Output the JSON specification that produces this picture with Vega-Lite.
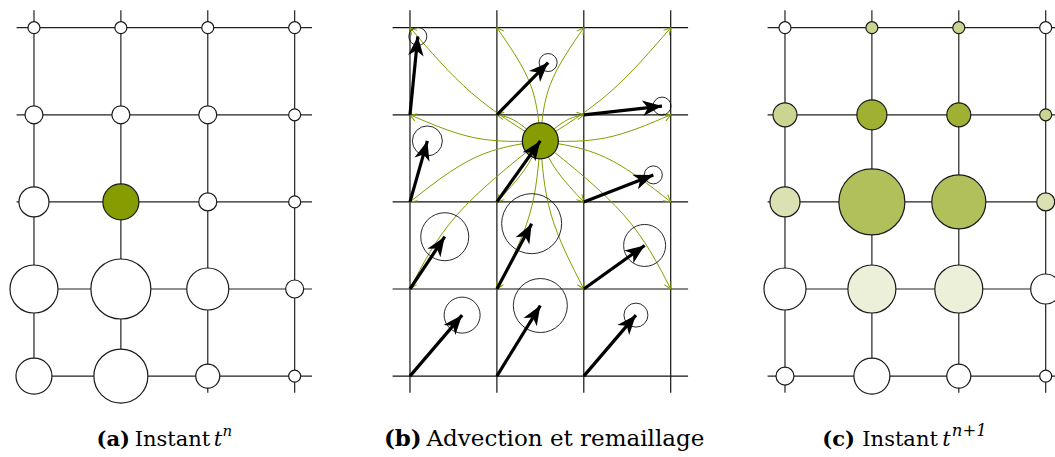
{
  "$schema": "https://vega.github.io/schema/vega-lite/v6.json",
  "padding": 0,
  "spacing": 0,
  "bounds": "flush",
  "background": "white",
  "config": {"view": {"stroke": null}},
  "datasets": {
    "grid": [
      {"x": -0.2, "x2": 3.2, "y": 0, "y2": 0},
      {"x": -0.2, "x2": 3.2, "y": 1, "y2": 1},
      {"x": -0.2, "x2": 3.2, "y": 2, "y2": 2},
      {"x": -0.2, "x2": 3.2, "y": 3, "y2": 3},
      {"x": -0.2, "x2": 3.2, "y": 4, "y2": 4},
      {"x": 0, "x2": 0, "y": -0.2, "y2": 4.19},
      {"x": 1, "x2": 1, "y": -0.2, "y2": 4.19},
      {"x": 2, "x2": 2, "y": -0.2, "y2": 4.19},
      {"x": 3, "x2": 3, "y": -0.2, "y2": 4.19}
    ],
    "circA": [
      {"x": 0, "y": 0, "m": 2, "f": 0}, {"x": 1, "y": 0, "m": 2, "f": 0}, {"x": 2, "y": 0, "m": 2, "f": 0}, {"x": 3, "y": 0, "m": 2, "f": 0},
      {"x": 0, "y": 1, "m": 3, "f": 0}, {"x": 1, "y": 1, "m": 3, "f": 0}, {"x": 2, "y": 1, "m": 3, "f": 0}, {"x": 3, "y": 1, "m": 2, "f": 0},
      {"x": 0, "y": 2, "m": 5, "f": 0}, {"x": 1, "y": 2, "m": 6, "f": 1}, {"x": 2, "y": 2, "m": 3, "f": 0}, {"x": 3, "y": 2, "m": 2, "f": 0},
      {"x": 0, "y": 3, "m": 8, "f": 0}, {"x": 1, "y": 3, "m": 10, "f": 0}, {"x": 2, "y": 3, "m": 7, "f": 0}, {"x": 3, "y": 3, "m": 3, "f": 0},
      {"x": 0, "y": 4, "m": 6, "f": 0}, {"x": 1, "y": 4, "m": 9, "f": 0}, {"x": 2, "y": 4, "m": 4, "f": 0}, {"x": 3, "y": 4, "m": 2, "f": 0}
    ],
    "circC": [
      {"x": 0, "y": 0, "m": 2, "f": 0}, {"x": 1, "y": 0, "m": 2, "f": 0.43}, {"x": 2, "y": 0, "m": 2, "f": 0.43}, {"x": 3, "y": 0, "m": 2, "f": 0},
      {"x": 0, "y": 1, "m": 4, "f": 0.43}, {"x": 1, "y": 1, "m": 5, "f": 0.8}, {"x": 2, "y": 1, "m": 4, "f": 0.8}, {"x": 3, "y": 1, "m": 2, "f": 0.43},
      {"x": 0, "y": 2, "m": 5, "f": 0.3}, {"x": 1, "y": 2, "m": 11, "f": 0.64}, {"x": 2, "y": 2, "m": 9, "f": 0.64}, {"x": 3, "y": 2, "m": 3, "f": 0.3},
      {"x": 0, "y": 3, "m": 7, "f": 0}, {"x": 1, "y": 3, "m": 8, "f": 0.15}, {"x": 2, "y": 3, "m": 8, "f": 0.15}, {"x": 3, "y": 3, "m": 5, "f": 0},
      {"x": 0, "y": 4, "m": 3, "f": 0}, {"x": 1, "y": 4, "m": 6, "f": 0}, {"x": 2, "y": 4, "m": 4, "f": 0}, {"x": 3, "y": 4, "m": 2, "f": 0}
    ],
    "arrows": [
      {"x": 0.09, "y": 0.10, "x2": 0, "y2": 1, "m": 3, "g": 0, "a": -84.3},
      {"x": 1.59, "y": 0.40, "x2": 1, "y2": 1, "m": 3, "g": 0, "a": -45.5},
      {"x": 2.90, "y": 0.90, "x2": 2, "y2": 1, "m": 3, "g": 0, "a": -6.3},
      {"x": 0.20, "y": 1.30, "x2": 0, "y2": 2, "m": 5, "g": 0, "a": -74.1},
      {"x": 1.50, "y": 1.30, "x2": 1, "y2": 2, "m": 6, "g": 1, "a": -54.5},
      {"x": 2.80, "y": 1.69, "x2": 2, "y2": 2, "m": 3, "g": 0, "a": -21.2},
      {"x": 0.40, "y": 2.40, "x2": 0, "y2": 3, "m": 8, "g": 0, "a": -56.4},
      {"x": 1.40, "y": 2.25, "x2": 1, "y2": 3, "m": 10, "g": 0, "a": -62.0},
      {"x": 2.70, "y": 2.50, "x2": 2, "y2": 3, "m": 7, "g": 0, "a": -35.6},
      {"x": 0.60, "y": 3.30, "x2": 0, "y2": 4, "m": 6, "g": 0, "a": -49.5},
      {"x": 1.50, "y": 3.19, "x2": 1, "y2": 4, "m": 9, "g": 0, "a": -58.4},
      {"x": 2.60, "y": 3.30, "x2": 2, "y2": 4, "m": 4, "g": 0, "a": -49.5}
    ],
    "curves": [
      {"id": 1, "k": 0, "x": 1.5, "y": 1.3}, {"id": 1, "k": 1, "x": 0.71, "y": 0.75}, {"id": 1, "k": 2, "x": 0, "y": 0, "a": -130.7},
      {"id": 2, "k": 0, "x": 1.5, "y": 1.3}, {"id": 2, "k": 1, "x": 1.385, "y": 0.65}, {"id": 2, "k": 2, "x": 1, "y": 0, "a": -124.8},
      {"id": 3, "k": 0, "x": 1.5, "y": 1.3}, {"id": 3, "k": 1, "x": 1.615, "y": 0.65}, {"id": 3, "k": 2, "x": 2, "y": 0, "a": -55.2},
      {"id": 4, "k": 0, "x": 1.5, "y": 1.3}, {"id": 4, "k": 1, "x": 2.29, "y": 0.75}, {"id": 4, "k": 2, "x": 3, "y": 0, "a": -49.3},
      {"id": 5, "k": 0, "x": 1.5, "y": 1.3}, {"id": 5, "k": 1, "x": 0.75, "y": 1.265}, {"id": 5, "k": 2, "x": 0, "y": 1, "a": -157},
      {"id": 6, "k": 0, "x": 1.5, "y": 1.3}, {"id": 6, "k": 1, "x": 1.22, "y": 1.075}, {"id": 6, "k": 2, "x": 1, "y": 1, "a": -169.7},
      {"id": 7, "k": 0, "x": 1.5, "y": 1.3}, {"id": 7, "k": 1, "x": 1.78, "y": 1.075}, {"id": 7, "k": 2, "x": 2, "y": 1, "a": -10.3},
      {"id": 8, "k": 0, "x": 1.5, "y": 1.3}, {"id": 8, "k": 1, "x": 2.25, "y": 1.265}, {"id": 8, "k": 2, "x": 3, "y": 1, "a": -23},
      {"id": 9, "k": 0, "x": 1.5, "y": 1.3}, {"id": 9, "k": 1, "x": 0.75, "y": 1.49}, {"id": 9, "k": 2, "x": 0, "y": 2, "a": 141.7},
      {"id": 10, "k": 0, "x": 1.5, "y": 1.3}, {"id": 10, "k": 1, "x": 1.305, "y": 1.65}, {"id": 10, "k": 2, "x": 1, "y": 2, "a": 133.9},
      {"id": 11, "k": 0, "x": 1.5, "y": 1.3}, {"id": 11, "k": 1, "x": 1.695, "y": 1.65}, {"id": 11, "k": 2, "x": 2, "y": 2, "a": 46.1},
      {"id": 12, "k": 0, "x": 1.5, "y": 1.3}, {"id": 12, "k": 1, "x": 2.25, "y": 1.49}, {"id": 12, "k": 2, "x": 3, "y": 2, "a": 38.3},
      {"id": 13, "k": 0, "x": 1.5, "y": 1.3}, {"id": 13, "k": 1, "x": 0.54, "y": 2.15}, {"id": 13, "k": 2, "x": 0, "y": 3, "a": 117.1},
      {"id": 14, "k": 0, "x": 1.5, "y": 1.3}, {"id": 14, "k": 1, "x": 1.375, "y": 2.15}, {"id": 14, "k": 2, "x": 1, "y": 3, "a": 117.2},
      {"id": 15, "k": 0, "x": 1.5, "y": 1.3}, {"id": 15, "k": 1, "x": 1.625, "y": 2.15}, {"id": 15, "k": 2, "x": 2, "y": 3, "a": 62.8},
      {"id": 16, "k": 0, "x": 1.5, "y": 1.3}, {"id": 16, "k": 1, "x": 2.46, "y": 2.15}, {"id": 16, "k": 2, "x": 3, "y": 3, "a": 62.9}
    ]
  },
  "hconcat": [
    {
      "width": 376,
      "height": 457,
      "encoding": {
        "x": {"field": "x", "type": "quantitative", "scale": {"domain": [-0.391, 3.936], "nice": false, "zero": false}, "axis": null},
        "y": {"field": "y", "type": "quantitative", "scale": {"domain": [-0.318, 4.929], "nice": false, "zero": false, "reverse": true}, "axis": null}
      },
      "layer": [
        {"data": {"name": "grid"}, "mark": {"type": "rule", "color": "#222222", "strokeWidth": 1.2}, "encoding": {"x2": {"field": "x2"}, "y2": {"field": "y2"}}},
        {"data": {"name": "circA"}, "mark": {"type": "point", "shape": "circle", "filled": true, "opacity": 1, "stroke": "#1a1a1a", "strokeWidth": 1.2},
         "encoding": {
           "size": {"field": "m", "type": "quantitative", "scale": {"type": "pow", "exponent": 2, "domain": [0, 10], "range": [0, 3600]}, "legend": null},
           "fill": {"field": "f", "type": "quantitative", "scale": {"domain": [0, 1], "range": ["#ffffff", "#879c00"], "interpolate": "rgb"}, "legend": null}
         }},
        {"data": {"values": [{"x": 0.72, "y": 4.802, "t": "(a)"}]}, "mark": {"type": "text", "align": "left", "baseline": "alphabetic", "font": "DejaVu Serif", "fontSize": 21, "fontWeight": "bold", "color": "#000"}, "encoding": {"text": {"field": "t"}}},
        {"data": {"values": [{"x": 1.16, "y": 4.802, "t": "Instant"}]}, "mark": {"type": "text", "align": "left", "baseline": "alphabetic", "font": "DejaVu Serif", "fontSize": 21, "color": "#000"}, "encoding": {"text": {"field": "t"}}},
        {"data": {"values": [{"x": 2.07, "y": 4.802, "t": "t"}]}, "mark": {"type": "text", "align": "left", "baseline": "alphabetic", "font": "DejaVu Serif", "fontSize": 21, "fontStyle": "italic", "color": "#000"}, "encoding": {"text": {"field": "t"}}},
        {"data": {"values": [{"x": 2.17, "y": 4.69, "t": "n"}]}, "mark": {"type": "text", "align": "left", "baseline": "alphabetic", "font": "DejaVu Serif", "fontSize": 15, "fontStyle": "italic", "color": "#000"}, "encoding": {"text": {"field": "t"}}}
      ]
    },
    {
      "width": 375,
      "height": 457,
      "encoding": {
        "x": {"field": "x", "type": "quantitative", "scale": {"domain": [-0.391, 3.924], "nice": false, "zero": false}, "axis": null},
        "y": {"field": "y", "type": "quantitative", "scale": {"domain": [-0.318, 4.929], "nice": false, "zero": false, "reverse": true}, "axis": null}
      },
      "layer": [
        {"data": {"name": "grid"}, "mark": {"type": "rule", "color": "#111111", "strokeWidth": 1.2}, "encoding": {"x2": {"field": "x2"}, "y2": {"field": "y2"}}},
        {"data": {"name": "curves"}, "mark": {"type": "line", "interpolate": "natural", "color": "#879c00", "strokeWidth": 1},
         "encoding": {"detail": {"field": "id", "type": "nominal"}, "order": {"field": "k", "type": "quantitative"}}},
        {"data": {"name": "curves"}, "transform": [{"filter": "datum.k == 2"}],
         "mark": {"type": "point", "shape": "M-1.8,-1L0,0L-1.8,1", "filled": false, "opacity": 1, "stroke": "#879c00", "strokeWidth": 1, "size": 56},
         "encoding": {"angle": {"field": "a", "type": "quantitative", "scale": null}}},
        {"data": {"name": "arrows"}, "transform": [{"filter": "datum.g == 0"}],
         "mark": {"type": "point", "shape": "circle", "filled": false, "opacity": 1, "stroke": "#111111", "strokeWidth": 0.9},
         "encoding": {"size": {"field": "m", "type": "quantitative", "scale": {"type": "pow", "exponent": 2, "domain": [0, 10], "range": [0, 3600]}, "legend": null}}},
        {"data": {"name": "arrows"}, "transform": [{"filter": "datum.g == 1"}],
         "mark": {"type": "point", "shape": "circle", "filled": true, "opacity": 1, "fill": "#879c00", "stroke": "#111111", "strokeWidth": 1.2},
         "encoding": {"size": {"field": "m", "type": "quantitative", "scale": {"type": "pow", "exponent": 2, "domain": [0, 10], "range": [0, 3600]}, "legend": null}}},
        {"data": {"name": "arrows"}, "mark": {"type": "rule", "color": "#000000", "strokeWidth": 3.2},
         "encoding": {"x2": {"field": "x2"}, "y2": {"field": "y2"}}},
        {"data": {"name": "arrows"},
         "mark": {"type": "point", "shape": "M0,0L-2,-0.8L-1.45,0L-2,0.8Z", "filled": true, "opacity": 1, "fill": "#000000", "strokeWidth": 0, "size": 380},
         "encoding": {"angle": {"field": "a", "type": "quantitative", "scale": null}}},
        {"data": {"values": [{"x": -0.3, "y": 4.802, "t": "(b)"}]}, "mark": {"type": "text", "align": "left", "baseline": "alphabetic", "font": "DejaVu Serif", "fontSize": 23, "fontWeight": "bold", "color": "#000"}, "encoding": {"text": {"field": "t"}}},
        {"data": {"values": [{"x": 0.19, "y": 4.802, "t": "Advection et remaillage"}]}, "mark": {"type": "text", "align": "left", "baseline": "alphabetic", "font": "DejaVu Serif", "fontSize": 23, "color": "#000"}, "encoding": {"text": {"field": "t"}}}
      ]
    },
    {
      "width": 304,
      "height": 457,
      "encoding": {
        "x": {"field": "x", "type": "quantitative", "scale": {"domain": [-0.391, 3.107], "nice": false, "zero": false}, "axis": null},
        "y": {"field": "y", "type": "quantitative", "scale": {"domain": [-0.318, 4.929], "nice": false, "zero": false, "reverse": true}, "axis": null}
      },
      "layer": [
        {"data": {"name": "grid"}, "mark": {"type": "rule", "color": "#222222", "strokeWidth": 1.2, "clip": true}, "encoding": {"x2": {"field": "x2"}, "y2": {"field": "y2"}}},
        {"data": {"name": "circC"}, "mark": {"type": "point", "shape": "circle", "filled": true, "opacity": 1, "stroke": "#1a1a1a", "strokeWidth": 1.2, "clip": true},
         "encoding": {
           "size": {"field": "m", "type": "quantitative", "scale": {"type": "pow", "exponent": 2, "domain": [0, 10], "range": [0, 3600]}, "legend": null},
           "fill": {"field": "f", "type": "quantitative", "scale": {"domain": [0, 1], "range": ["#ffffff", "#879c00"], "interpolate": "rgb"}, "legend": null}
         }},
        {"data": {"values": [{"x": 0.43, "y": 4.802, "t": "(c)"}]}, "mark": {"type": "text", "align": "left", "baseline": "alphabetic", "font": "DejaVu Serif", "fontSize": 21, "fontWeight": "bold", "color": "#000"}, "encoding": {"text": {"field": "t"}}},
        {"data": {"values": [{"x": 0.89, "y": 4.802, "t": "Instant"}]}, "mark": {"type": "text", "align": "left", "baseline": "alphabetic", "font": "DejaVu Serif", "fontSize": 21, "color": "#000"}, "encoding": {"text": {"field": "t"}}},
        {"data": {"values": [{"x": 1.81, "y": 4.802, "t": "t"}]}, "mark": {"type": "text", "align": "left", "baseline": "alphabetic", "font": "DejaVu Serif", "fontSize": 21, "fontStyle": "italic", "color": "#000"}, "encoding": {"text": {"field": "t"}}},
        {"data": {"values": [{"x": 1.92, "y": 4.69, "t": "n+1"}]}, "mark": {"type": "text", "align": "left", "baseline": "alphabetic", "font": "DejaVu Serif", "fontSize": 16.5, "fontStyle": "italic", "color": "#000"}, "encoding": {"text": {"field": "t"}}}
      ]
    }
  ]
}
